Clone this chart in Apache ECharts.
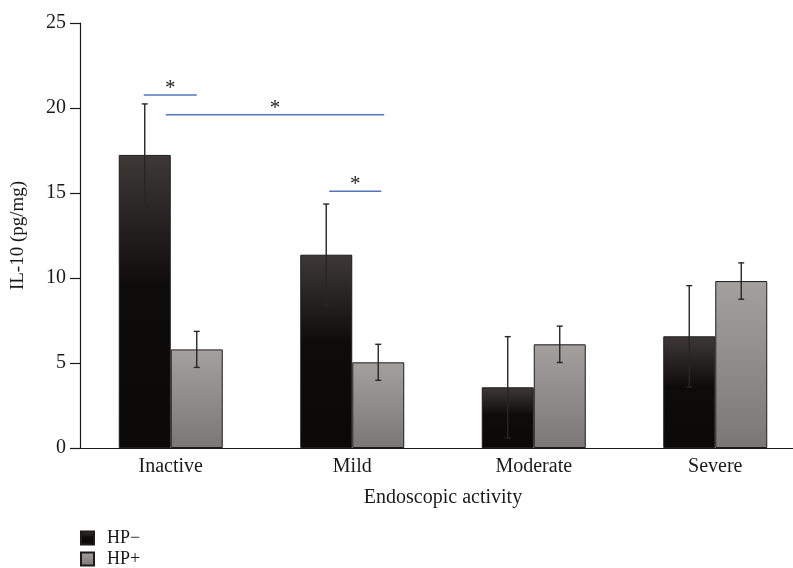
<!DOCTYPE html>
<html>
<head>
<meta charset="utf-8">
<script src="https://cdn.jsdelivr.net/npm/echarts@6/dist/echarts.min.js"></script>
<style>
  html, body { margin: 0; padding: 0; background: #fff; }
  #chart { width: 793px; height: 568px; }
</style>
</head>
<body>
<div id="chart"></div>
<script>
// ---- data ----
const categories = ['Inactive', 'Mild', 'Moderate', 'Severe'];
const seriesNames = ['HP\u2212', 'HP+'];
const hpNeg = [17.24, 11.37, 3.57, 6.57];
const hpNegErr = [3.0, 2.98, 2.98, 2.98];
const hpPos = [5.8, 5.04, 6.1, 9.82];
const hpPosErr = [1.06, 1.06, 1.07, 1.07];
const yTicks = [0, 5, 10, 15, 20, 25];
// significance brackets: [fromCategory, toCategory, yValue]
const sigLines = [
  [0, 0, 20.76],
  [0, 1, 19.6],
  [1, 1, 15.1]
];
const sigLabel = '*';

// ---- layout / style ----
const BAR_W = 52;
const FONT = '"Liberation Serif", "Times New Roman", serif';
const sigOffsets = [[-27, 26], [-5, 32], [-23, 29]]; // px offsets from category centre

const chart = echarts.init(document.getElementById('chart'), null, { renderer: 'canvas' });

const gradNeg = new echarts.graphic.LinearGradient(0, 0, 0, 1, [
  { offset: 0, color: '#3e3937' },
  { offset: 0.45, color: '#0e0c0b' },
  { offset: 1, color: '#0a0908' }
]);
const gradPos = new echarts.graphic.LinearGradient(0, 0, 0, 1, [
  { offset: 0, color: '#a4a09e' },
  { offset: 1, color: '#7b7776' }
]);

function errData(vals, errs) {
  return vals.map((v, i) => [i, v - errs[i], v + errs[i]]);
}
function errSeries(vals, errs, side) {
  return {
    type: 'custom',
    silent: true,
    z: 5,
    data: errData(vals, errs),
    renderItem: function (params, api) {
      const lo = api.coord([api.value(0), api.value(1)]);
      const hi = api.coord([api.value(0), api.value(2)]);
      const x = lo[0] + side * BAR_W / 2;
      const cap = 3;
      const st = { stroke: '#262626', lineWidth: 1.4 };
      return {
        type: 'group',
        children: [
          { type: 'line', shape: { x1: x, y1: lo[1], x2: x, y2: hi[1] }, style: st },
          { type: 'line', shape: { x1: x - cap, y1: lo[1], x2: x + cap, y2: lo[1] }, style: st },
          { type: 'line', shape: { x1: x - cap, y1: hi[1], x2: x + cap, y2: hi[1] }, style: st }
        ]
      };
    }
  };
}

const option = {
  backgroundColor: '#ffffff',
  animation: false,
  textStyle: { fontFamily: FONT },
  grid: { left: 80, width: 726, top: 23, height: 425, containLabel: false, outerBoundsMode: 'none' },
  legend: {
    orient: 'vertical',
    left: 80,
    top: 529,
    height: 60,
    padding: 0,
    itemWidth: 13,
    itemHeight: 13,
    itemGap: 3,
    icon: 'rect',
    data: seriesNames,
    textStyle: { fontFamily: FONT, fontSize: 18, lineHeight: 14, color: '#1a1a1a', padding: [0, 0, 0, 8] }
  },
  xAxis: {
    type: 'category',
    data: categories,
    axisLine: { lineStyle: { color: '#1a1a1a', width: 1.2 } },
    axisTick: { show: false },
    axisLabel: { fontFamily: FONT, fontSize: 20, color: '#1a1a1a', margin: 9 },
    name: 'Endoscopic activity',
    nameLocation: 'middle',
    nameGap: 40,
    nameTextStyle: { fontFamily: FONT, fontSize: 20, color: '#1a1a1a' }
  },
  yAxis: {
    type: 'value',
    min: yTicks[0],
    max: yTicks[yTicks.length - 1],
    interval: yTicks[1] - yTicks[0],
    axisLine: { show: true, lineStyle: { color: '#1a1a1a', width: 1.2 } },
    axisTick: { show: true, inside: false, length: 10, lineStyle: { color: '#1a1a1a', width: 1.2 } },
    splitLine: { show: false },
    axisLabel: { fontFamily: FONT, fontSize: 20, color: '#1a1a1a', margin: 14 },
    name: 'IL-10 (pg/mg)',
    nameLocation: 'middle',
    nameGap: 52,
    nameTextStyle: { fontFamily: FONT, fontSize: 19, color: '#1a1a1a' }
  },
  series: [
    {
      name: seriesNames[0],
      type: 'bar',
      data: hpNeg,
      barWidth: BAR_W,
      barGap: '0%',
      itemStyle: { color: gradNeg, borderColor: '#1c1c1c', borderWidth: 1 }
    },
    {
      name: seriesNames[1],
      type: 'bar',
      data: hpPos,
      barWidth: BAR_W,
      barGap: '0%',
      itemStyle: { color: gradPos, borderColor: '#1c1c1c', borderWidth: 1 }
    },
    errSeries(hpNeg, hpNegErr, -1),
    errSeries(hpPos, hpPosErr, 1),
    {
      type: 'custom',
      silent: true,
      z: 6,
      data: sigLines,
      renderItem: function (params, api) {
        const i = params.dataIndex;
        const a = api.coord([api.value(0), api.value(2)]);
        const b = api.coord([api.value(1), api.value(2)]);
        const x1 = a[0] + sigOffsets[i][0];
        const x2 = b[0] + sigOffsets[i][1];
        const y = a[1];
        return {
          type: 'group',
          children: [
            { type: 'line', shape: { x1: x1, y1: y, x2: x2, y2: y }, style: { stroke: '#5575bb', lineWidth: 1.5 } },
            { type: 'text', x: (x1 + x2) / 2, y: y + 4,
              style: { text: sigLabel, fontFamily: FONT, fontSize: 21, fill: '#222', align: 'center', verticalAlign: 'bottom' } }
          ]
        };
      }
    }
  ]
};
chart.setOption(option);
</script>
</body>
</html>
